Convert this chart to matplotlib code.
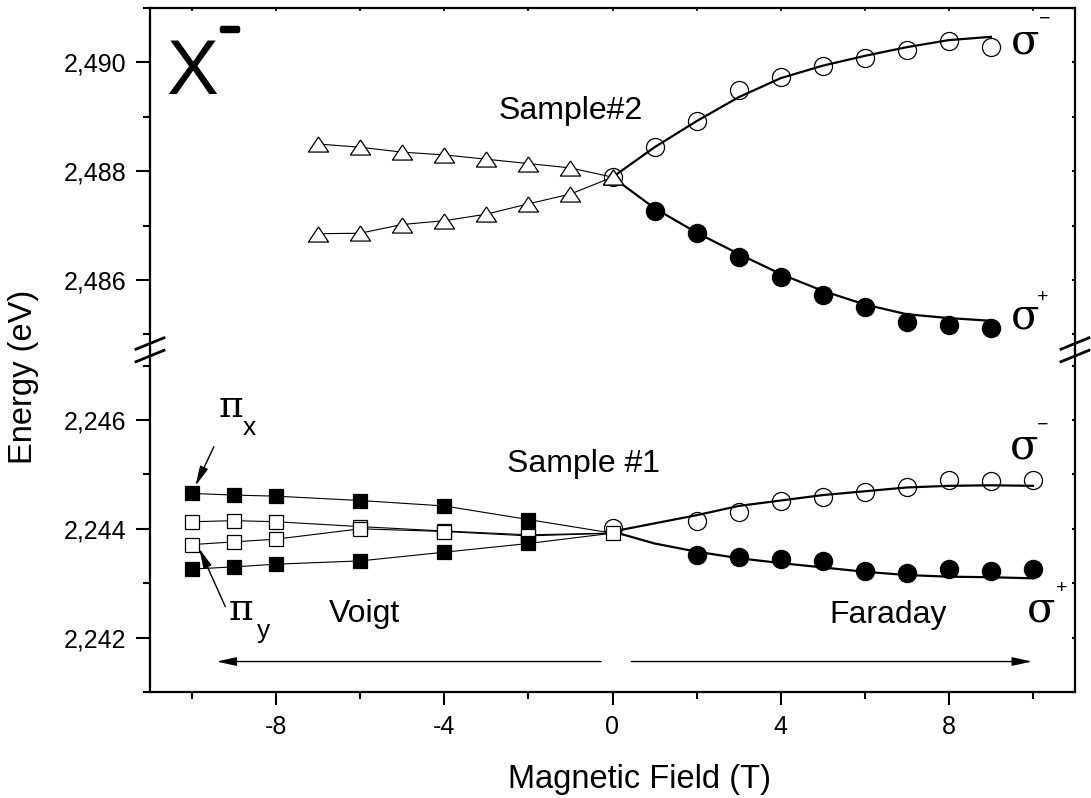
# X- trion Zeeman splitting, two samples, broken energy axis
import matplotlib
matplotlib.use('Agg')
import matplotlib.pyplot as plt
from matplotlib.lines import Line2D
from matplotlib.ticker import FixedLocator, MultipleLocator
import matplotlib.patheffects as pe

plt.rcParams['font.family'] = ['Liberation Sans', 'DejaVu Sans']

# ---- data ----
# Sample #2 (upper panel), Voigt triangles
s2_tri_x = [-7, -6, -5, -4, -3, -2, -1, 0]
s2_tri_up = [2.48850, 2.48844, 2.48835, 2.48830, 2.48822, 2.48814, 2.48806, 2.48789]
s2_tri_lo = [2.48685, 2.48686, 2.48702, 2.48709, 2.48721, 2.48740, 2.48758, 2.48789]
# Sample #2, Faraday circles
s2_open_x = [0, 1, 2, 3, 4, 5, 6, 7, 8, 9]
s2_open_y = [2.48789, 2.48844, 2.48893, 2.48949, 2.48974, 2.48993, 2.49009, 2.49022, 2.49039, 2.49029]
s2_fill_x = [1, 2, 3, 4, 5, 6, 7, 8, 9]
s2_fill_y = [2.48727, 2.48686, 2.48643, 2.48606, 2.48573, 2.48550, 2.48522, 2.48517, 2.48512]
s2_fit_x = [0, 1, 2, 3, 4, 5, 6, 7, 8, 9]
s2_fit_up = [2.48789, 2.48844, 2.48892, 2.48936, 2.48971, 2.48994, 2.49012, 2.49028, 2.49041, 2.49047]
s2_fit_lo = [2.48789, 2.48732, 2.48687, 2.48648, 2.48611, 2.48580, 2.48555, 2.48537, 2.48530, 2.48525]

# Sample #1 (lower panel), Voigt squares
s1_sq_x = [-10, -9, -8, -6, -4, -2]
s1_px_up = [2.24465, 2.24462, 2.24460, 2.24452, 2.24442, 2.24417]
s1_py_up = [2.24413, 2.24415, 2.24413, 2.24404, 2.24396, 2.24389]
s1_py_lo = [2.24371, 2.24376, 2.24381, 2.24400, 2.24395, 2.24387]
s1_px_lo = [2.24326, 2.24330, 2.24335, 2.24341, 2.24357, 2.24373]
s1_zero_sq = 2.24392
s1_zero_circ = 2.24401
# Sample #1, Faraday circles
s1_circ_x = [2, 3, 4, 5, 6, 7, 8, 9, 10]
s1_open_y = [2.24414, 2.24430, 2.24452, 2.24459, 2.24467, 2.24476, 2.24490, 2.24487, 2.24490]
s1_fill_y = [2.24352, 2.24348, 2.24344, 2.24340, 2.24323, 2.24319, 2.24327, 2.24323, 2.24326]
s1_fit_x = [0, 1, 2, 3, 4, 5, 6, 7, 8, 9, 10]
s1_fit_up = [2.24395, 2.24410, 2.24425, 2.24442, 2.24452, 2.24462, 2.24469, 2.24476, 2.24479, 2.24480, 2.24479]
s1_fit_lo = [2.24395, 2.24373, 2.24358, 2.24346, 2.24337, 2.24329, 2.24321, 2.24315, 2.24312, 2.24311, 2.24309]

# axis ticks
x_major = [-8, -4, 0, 4, 8]
x_labels = ['-8', '-4', '0', '4', '8']
top_major = [2.486, 2.488, 2.490]
top_labels = ['2,486', '2,488', '2,490']
top_minor = [2.485, 2.487, 2.489, 2.491]
bot_major = [2.242, 2.244, 2.246]
bot_labels = ['2,242', '2,244', '2,246']
bot_minor = [2.241, 2.243, 2.245, 2.247]

# ---- figure ----
W, H = 1091, 798
fig = plt.figure(figsize=(W / 100, H / 100), dpi=100)
ax_t = fig.add_axes([150 / W, 1 - 350 / H, 925 / W, 342 / H])
ax_b = fig.add_axes([150 / W, 1 - 692 / H, 925 / W, 342 / H])

for ax in (ax_t, ax_b):
    ax.set_xlim(-11, 11)
    ax.patch.set_visible(False)
    for s in ax.spines.values():
        s.set_linewidth(1.6)
    ax.tick_params(axis='y', which='major', direction='out', length=10, width=1.5,
                   labelsize=18, pad=7)
    ax.tick_params(axis='y', which='minor', direction='out', length=5, width=1.5)

ax_t.set_ylim(2.484713, 2.491)
ax_b.set_ylim(2.241, 2.247287)
ax_t.spines['bottom'].set_visible(False)
ax_b.spines['top'].set_visible(False)

ax_t.yaxis.set_major_locator(FixedLocator(top_major))
ax_t.set_yticklabels(top_labels)
ax_t.yaxis.set_minor_locator(FixedLocator(top_minor))
ax_b.yaxis.set_major_locator(FixedLocator(bot_major))
ax_b.set_yticklabels(bot_labels)
ax_b.yaxis.set_minor_locator(FixedLocator(bot_minor))

ax_t.xaxis.set_major_locator(FixedLocator(x_major))
ax_t.xaxis.set_minor_locator(MultipleLocator(2))
ax_t.tick_params(axis='x', which='both', bottom=False, labelbottom=False,
                 top=True, direction='in', length=2.5, width=1.2)
ax_b.set_xticks(x_major)
ax_b.set_xticklabels(x_labels)
ax_b.xaxis.set_minor_locator(MultipleLocator(2))
ax_b.tick_params(axis='x', which='major', direction='out', length=9.5, width=1.5,
                 labelsize=18, pad=7, top=False)
ax_b.tick_params(axis='x', which='minor', direction='out', length=5, width=1.5, top=False)
# small inward ticks on the right spine
for ax in (ax_t, ax_b):
    ax.tick_params(axis='y', which='both', right=True)
    for t in ax.yaxis.get_ticklines(minor=False)[1::2] + ax.yaxis.get_ticklines(minor=True)[1::2]:
        t.set_markersize(2.5)
        t.set_marker(0)

# triangle marker: wider than tall
tri = [(0, 0.75), (-1, -0.75), (1, -0.75), (0, 0.75)]

# upper panel
ax_t.plot(s2_tri_x, s2_tri_up, '-', color='k', lw=0.8, marker=tri, ms=14.5,
          mfc='white', mec='k', mew=0.9, zorder=4)
ax_t.plot(s2_tri_x, s2_tri_lo, '-', color='k', lw=0.8, marker=tri, ms=14.5,
          mfc='white', mec='k', mew=0.9, zorder=4)
ax_t.plot(s2_fit_x, s2_fit_up, '-', color='k', lw=1.6, zorder=2)
ax_t.plot(s2_fit_x, s2_fit_lo, '-', color='k', lw=1.6, zorder=2)
ax_t.plot(s2_open_x, s2_open_y, 'o', ms=13, mfc='none', mec='k', mew=0.9, zorder=3)
ax_t.plot(s2_fill_x, s2_fill_y, 'o', ms=13, mfc='k', mec='k', zorder=3)

# lower panel
for yy, filled in ((s1_px_up, True), (s1_py_up, False), (s1_py_lo, False), (s1_px_lo, True)):
    ax_b.plot(s1_sq_x + [0], yy + [s1_zero_sq], '-', color='k', lw=0.8, zorder=2)
    ax_b.plot(s1_sq_x, yy, 's', ms=10.5, mfc='k' if filled else 'white', mec='k',
              mew=0.9, zorder=4)
ax_b.plot(s1_fit_x, s1_fit_up, '-', color='k', lw=1.6, zorder=2)
ax_b.plot(s1_fit_x, s1_fit_lo, '-', color='k', lw=1.6, zorder=2)
ax_b.plot([0], [s1_zero_circ], 'o', ms=13, mfc='none', mec='k', mew=0.9, zorder=3)
ax_b.plot([0], [s1_zero_sq], 's', ms=10.5, mfc='white', mec='k', mew=0.9, zorder=4)
ax_b.plot(s1_circ_x, s1_open_y, 'o', ms=13, mfc='none', mec='k', mew=0.9, zorder=3)
ax_b.plot(s1_circ_x, s1_fill_y, 'o', ms=13, mfc='k', mec='k', zorder=3)

# ---- text ----
serif = ['DejaVu Serif']
ax_t.text(-10.0, 2.48942, 'X', fontsize=56, ha='center', va='baseline')
ax_t.text(-9.1, 2.49040, '−', fontsize=24, ha='center', va='baseline',
          path_effects=[pe.withStroke(linewidth=3.2, foreground='k')])
ax_t.text(-1.0, 2.48896, 'Sample#2', fontsize=23, ha='center', va='baseline')
ax_t.text(9.81, 2.49016, 'σ', fontsize=30, family=serif, ha='center', va='baseline')
ax_t.text(10.27, 2.49079, '−', fontsize=14, ha='center', va='center')
ax_t.text(9.81, 2.48510, 'σ', fontsize=30, family=serif, ha='center', va='baseline')
ax_t.text(10.24, 2.48567, '+', fontsize=14, ha='center', va='center')

ax_b.text(-0.69, 2.24505, 'Sample #1', fontsize=23, ha='center', va='baseline')
ax_b.text(9.80, 2.24530, 'σ', fontsize=30, family=serif, ha='center', va='baseline')
ax_b.text(10.23, 2.24591, '−', fontsize=14, ha='center', va='center')
ax_b.text(10.2, 2.24229, 'σ', fontsize=30, family=serif, ha='center', va='baseline')
ax_b.text(10.69, 2.24291, '+', fontsize=14, ha='center', va='center')
ax_b.text(-5.9, 2.24229, 'Voigt', fontsize=23, ha='center', va='baseline')
ax_b.text(6.55, 2.24226, 'Faraday', fontsize=23, ha='center', va='baseline')

ax_b.text(-9.08, 2.24606, 'π', fontsize=27, family=serif, ha='center', va='baseline')
ax_b.text(-8.64, 2.24572, 'x', fontsize=19, ha='center', va='baseline')
ax_b.text(-8.83, 2.24232, 'π', fontsize=27, family=serif, ha='center', va='baseline')
ax_b.text(-8.31, 2.24199, 'y', fontsize=19, ha='center', va='baseline')

arrow = dict(arrowstyle='-|>,head_length=0.6,head_width=0.13', color='k', lw=1.0,
             shrinkA=0, shrinkB=0, mutation_scale=20)
ax_b.annotate('', xy=(-9.92, 2.24479), xytext=(-9.48, 2.24551), arrowprops=arrow, zorder=5)
ax_b.annotate('', xy=(-9.83, 2.24364), xytext=(-9.21, 2.24257), arrowprops=arrow, zorder=5)
ax_b.annotate('', xy=(-9.42, 2.24156), xytext=(-0.27, 2.24156), arrowprops=arrow)
ax_b.annotate('', xy=(9.98, 2.24156), xytext=(0.45, 2.24156), arrowprops=arrow)

# axis labels
fig.text(24 / W, 1 - 377 / H, 'Energy (eV)', fontsize=23.5, rotation=90,
         ha='center', va='center')
fig.text(640 / W, 1 - 788 / H, 'Magnetic Field (T)', fontsize=23.5,
         ha='center', va='baseline')

# break marks on both spines (figure pixels)
for xs in (150, 1075):
    for dy in (-6.5, 6.0):
        yc = 350 + dy
        fig.add_artist(Line2D([(xs - 14) / W, (xs + 14) / W],
                              [1 - (yc + 5.7) / H, 1 - (yc - 5.7) / H],
                              transform=fig.transFigure, color='k', lw=2.0, zorder=10))

fig.savefig('out.png', dpi=100)
